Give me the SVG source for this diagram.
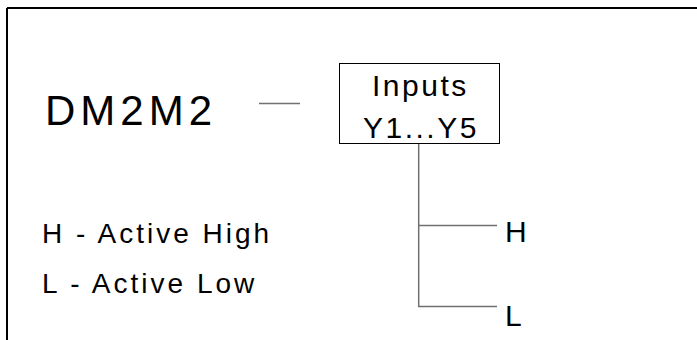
<svg xmlns="http://www.w3.org/2000/svg" width="697" height="340" viewBox="0 0 697 340">
<style>
.t{font-family:"Liberation Sans",Arial,sans-serif;fill:#000}
.frame{stroke:#000;stroke-width:2;fill:none}
.conn{stroke:#707070;stroke-width:1.5;fill:none}
</style>
<rect width="697" height="340" fill="#fff"/>
<g id="frame"><path class="frame" d="M7 8H697M7 8V340"/></g>
<g id="title"><text class="t" x="45" y="125" font-size="42" letter-spacing="5">DM2M2</text></g>
<g id="inputs">
<rect x="339.5" y="63.5" width="160" height="80" fill="#fff" stroke="#000" stroke-width="1"/>
<text class="t" x="372" y="96" font-size="30" letter-spacing="2.5">Inputs</text>
<text class="t" x="363" y="138" font-size="30" letter-spacing="2.5">Y1...Y5</text>
</g>
<g id="H"><text class="t" x="505" y="242" font-size="30">H</text></g>
<g id="L"><text class="t" x="505" y="326" font-size="30">L</text></g>
<g id="legend">
<text class="t" x="42" y="243" font-size="28" letter-spacing="3">H - Active High</text>
<text class="t" x="42" y="293" font-size="28" letter-spacing="3">L - Active Low</text>
</g>
<g id="connectors">
<path class="conn" d="M259 103.5H300" stroke-width="2"/>
<path class="conn" d="M418.7 144V306.7"/>
<path class="conn" d="M418 225.5H497M418 306.5H497" stroke="#555" stroke-width="1"/>
</g>
</svg>
